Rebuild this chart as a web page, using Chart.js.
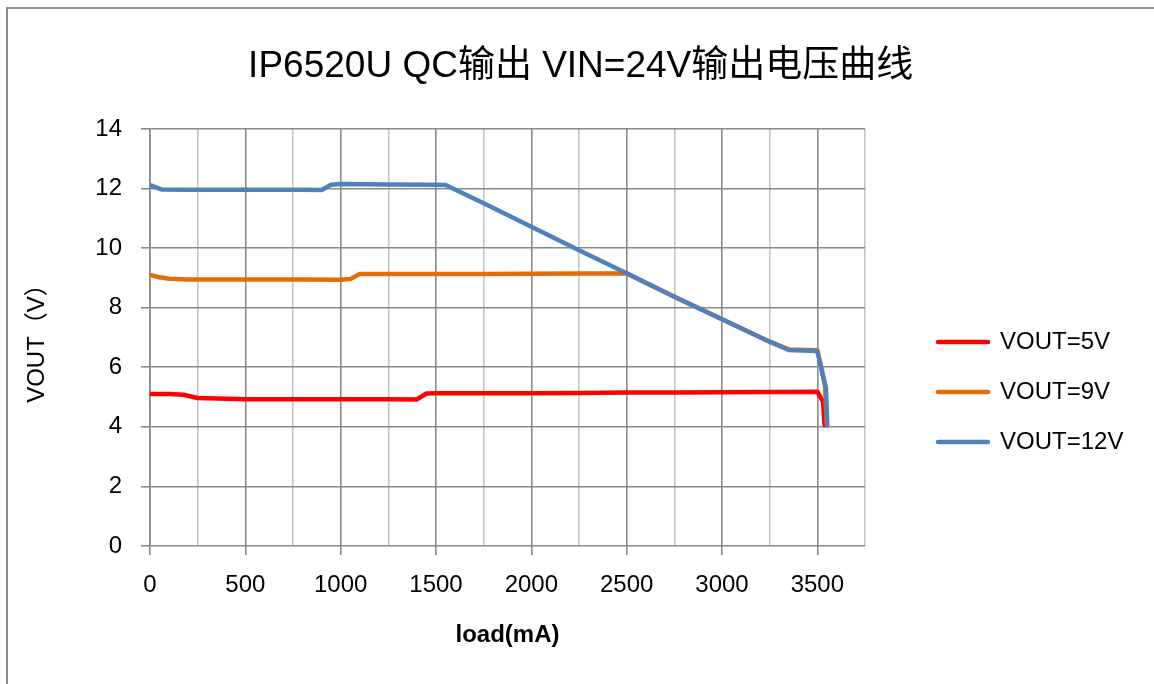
<!DOCTYPE html>
<html>
<head>
<meta charset="utf-8">
<script src="https://cdn.jsdelivr.net/npm/chart.js@4.4.1/dist/chart.umd.min.js"></script>
<style>
    body { margin: 0; background: #fff; overflow: hidden; }
    #wrap { position: absolute; left: 0; top: 0; width: 1154px; height: 684px; }
    #frame { position: absolute; left: 6px; top: 7px; width: 1200px; height: 800px; border: 2px solid #8c8c8c; }
</style>
</head>
<body>
<div id="frame"></div>
<div id="wrap"><canvas id="voutChart" width="1154" height="684"></canvas></div>
<script>
const titleText = 'IP6520U QC输出 VIN=24V输出电压曲线';
const seriesNames = ['VOUT=5V', 'VOUT=9V', 'VOUT=12V'];
const seriesColors = ['#ff0000', '#e46c0a', '#4f81bd'];
const xTickLabels = ['0', '500', '1000', '1500', '2000', '2500', '3000', '3500'];
const yTickLabels = ['0', '2', '4', '6', '8', '10', '12', '14'];

// load (mA) and output voltage (V)
const load5V = [0, 100, 175, 250, 500, 750, 1000, 1250, 1400, 1450, 1500, 1750, 2000, 2250, 2500, 2750, 3000, 3250, 3500, 3530, 3538];
const vout5V = [5.10, 5.10, 5.08, 4.97, 4.93, 4.93, 4.93, 4.93, 4.92, 5.12, 5.13, 5.13, 5.13, 5.14, 5.15, 5.15, 5.16, 5.17, 5.18, 4.85, 4.05];

const load9V = [0, 50, 100, 200, 500, 800, 1000, 1050, 1100, 1250, 1500, 1750, 2000, 2250, 2500, 2750, 3000, 3250, 3350, 3500, 3540, 3550];
const vout9V = [9.10, 9.02, 8.97, 8.95, 8.95, 8.95, 8.94, 8.96, 9.13, 9.13, 9.13, 9.13, 9.14, 9.15, 9.15, 8.37, 7.61, 6.86, 6.60, 6.57, 5.40, 4.05];

const load12V = [0, 60, 200, 500, 800, 900, 950, 1000, 1250, 1500, 1550, 1750, 2000, 2250, 2500, 2750, 3000, 3250, 3350, 3500, 3545, 3552];
const vout12V = [12.12, 11.97, 11.96, 11.96, 11.96, 11.95, 12.13, 12.15, 12.14, 12.13, 12.12, 11.51, 10.72, 9.93, 9.16, 8.37, 7.61, 6.86, 6.58, 6.55, 5.30, 4.05];

const loads = [load5V, load9V, load12V];
const vouts = [vout5V, vout9V, vout12V];

const fontFamily = '"Liberation Sans", Arial, "Noto Sans CJK SC", sans-serif';
const darkGrid = '#8a8a8a';
const lightGrid = '#c6c6c6';

function makePoints(xs, ys) {
    return xs.map((x, i) => ({ x: x, y: ys[i] }));
}

const datasets = seriesNames.map((name, i) => ({
    label: name,
    data: makePoints(loads[i], vouts[i]),
    borderColor: seriesColors[i],
    backgroundColor: seriesColors[i],
    borderWidth: 4.5,
    borderJoinStyle: 'round',
    borderCapStyle: 'round',
    pointRadius: 0,
    tension: 0,
    order: seriesNames.length - i   // blue on top, like the original
}));

const ctx = document.getElementById('voutChart').getContext('2d');

const voutChart = new Chart(ctx, {
    type: 'line',
    data: { datasets: datasets },
    options: {
        responsive: false,
        animation: false,
        layout: { padding: { left: 28, right: 20.6, top: 0, bottom: 0 } },
        plugins: {
            tooltip: { enabled: false },
            title: {
                display: true,
                text: titleText,
                color: '#000',
                font: { family: fontFamily, size: 37, weight: 'normal', lineHeight: 1.2 },
                padding: { top: 45, bottom: 39.6 }
            },
            legend: {
                position: 'right',
                align: 'center',
                maxWidth: 320,
                title: {
                    display: true,
                    text: ' ',
                    font: { size: 10, lineHeight: 1 },
                    padding: { top: 90, bottom: 0 }
                },
                labels: {
                    color: '#000',
                    font: { family: fontFamily, size: 24 },
                    boxWidth: 50,
                    boxHeight: 0,
                    padding: 26,
                    sort: (a, b) => a.datasetIndex - b.datasetIndex
                }
            }
        },
        scales: {
            x: {
                type: 'linear',
                min: 0,
                max: 3750,
                grid: {
                    color: c => (c.tick && c.tick.value % 500 === 0) ? darkGrid : lightGrid,
                    tickColor: c => (c.tick && c.tick.value % 500 === 0) ? darkGrid : 'rgba(0,0,0,0)',
                    lineWidth: 1.6,
                    tickLength: 9
                },
                border: { display: false },
                ticks: {
                    stepSize: 250,
                    autoSkip: false,
                    maxRotation: 0,
                    color: '#000',
                    padding: 16,
                    font: { family: fontFamily, size: 24 },
                    callback: v => xTickLabels.includes(String(v)) ? String(v) : ''
                },
                title: {
                    display: true,
                    text: 'load(mA)',
                    color: '#000',
                    font: { family: fontFamily, size: 24, weight: 'bold', lineHeight: 1.2 },
                    padding: { top: 0, bottom: 34 }
                },
                afterFit: scale => { scale.height = 138; }
            },
            y: {
                type: 'linear',
                position: 'left',
                min: 0,
                max: 14,
                grid: {
                    color: darkGrid,
                    lineWidth: 1.6,
                    tickLength: 9
                },
                border: { display: true, color: darkGrid, width: 1.6 },
                ticks: {
                    stepSize: 2,
                    color: '#000',
                    padding: 19,
                    font: { family: fontFamily, size: 24 },
                    callback: v => yTickLabels.includes(String(v)) ? String(v) : ''
                },
                title: {
                    display: true,
                    text: 'VOUT（V）',
                    color: '#000',
                    font: { family: fontFamily, size: 24, lineHeight: 0.8 },
                    padding: { top: 0, bottom: 0 }
                },
                afterFit: scale => { scale.width = 122; }
            },
            // empty spacer between plot and legend
            yR: {
                type: 'linear',
                axis: 'y',
                position: 'right',
                min: 0,
                max: 14,
                grid: { display: false, drawOnChartArea: false },
                border: { display: false },
                ticks: { display: false },
                afterFit: scale => { scale.width = 47; }
            }
        }
    }
});
</script>
</body>
</html>
